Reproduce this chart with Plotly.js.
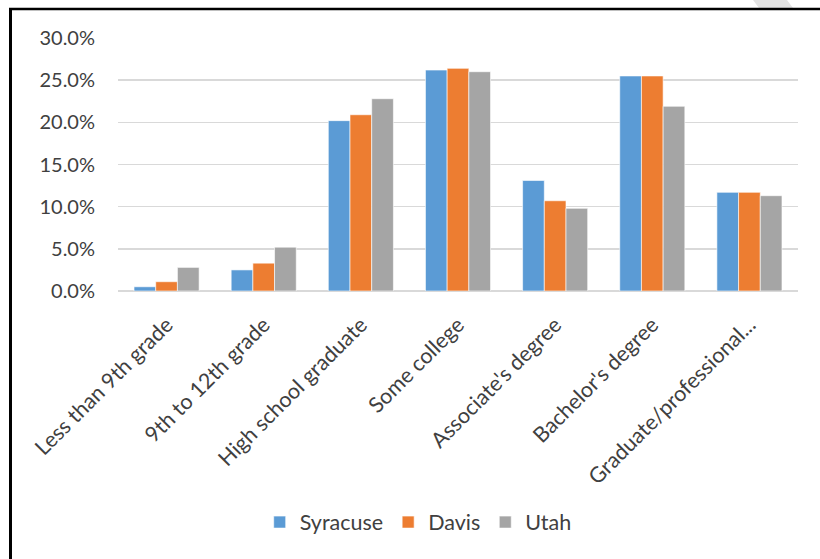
<!DOCTYPE html>
<html>
<head>
<meta charset="utf-8">
<script src="https://cdn.plot.ly/plotly-3.0.1.min.js"></script>
<style>
  html, body { margin: 0; padding: 0; background: #ffffff; }
  #chart { width: 820px; height: 559px; }
</style>
</head>
<body>
<div id="chart"></div>
<script>
const categories = [
  "Less than 9th grade",
  "9th to 12th grade",
  "High school graduate",
  "Some college",
  "Associate's degree",
  "Bachelor's degree",
  "Graduate/professional..."
];
const seriesNames = ["Syracuse", "Davis", "Utah"];
const syracuse = [0.005, 0.025, 0.202, 0.262, 0.131, 0.255, 0.117];
const davis    = [0.011, 0.033, 0.209, 0.264, 0.107, 0.255, 0.117];
const utah     = [0.028, 0.052, 0.228, 0.260, 0.098, 0.219, 0.113];
const yTicks = [0, 0.05, 0.10, 0.15, 0.20, 0.25, 0.30];
const yTickLabels = ["0.0%", "5.0%", "10.0%", "15.0%", "20.0%", "25.0%", "30.0%"];

const colors = ["#5b9bd5", "#ed7d31", "#a5a5a5"];
const values = [syracuse, davis, utah];

const FONT = "Lato, 'Open Sans', sans-serif";

// pixel -> paper helpers for decorative frame (plot area: x 118..798, y 38..290.7)
const px = x => (x - 118) / 680;
const py = y => (290.7 - y) / 252.7;

const data = seriesNames.map((name, i) => ({
  type: "bar",
  name: name,
  x: categories,
  y: values[i],
  marker: { color: colors[i], line: { color: "#ffffff", width: 0.6 } },
  hoverinfo: "skip"
}));

const layout = {
  width: 820,
  height: 559,
  margin: { l: 118, r: 22, t: 38, b: 268, pad: 0 },
  paper_bgcolor: "#ffffff",
  plot_bgcolor: "#ffffff",
  font: { family: FONT, color: "#595959", size: 20 },
  barmode: "group",
  bargap: 0.33,
  bargroupgap: 0,
  showlegend: true,
  legend: {
    orientation: "h",
    xref: "container", yref: "container",
    x: 0.51, xanchor: "center",
    y: 0.066, yanchor: "middle",
    font: { family: FONT, size: 21.5, color: "#404040" },
    bgcolor: "rgba(0,0,0,0)"
  },
  xaxis: {
    type: "category",
    tickangle: -45,
    tickfont: { family: FONT, size: 21.5, color: "#404040" },
    showgrid: false,
    showline: false,
    ticks: "",
    zeroline: false,
    ticklabelstandoff: 16,
    automargin: false
  },
  yaxis: {
    range: [0, 0.30],
    tickvals: yTicks,
    ticktext: yTickLabels,
    tickfont: { family: FONT, size: 20, color: "#404040" },
    showgrid: true,
    gridcolor: "#d9d9d9",
    gridwidth: 1.5,
    zeroline: true,
    zerolinecolor: "#d9d9d9",
    zerolinewidth: 1.5,
    showline: false,
    ticks: "",
    ticklabelstandoff: 22,
    automargin: false,
    fixedrange: true
  },
  shapes: [
    { type: "path", xref: "paper", yref: "paper",
      path: "M " + px(753) + " " + py(0) + " L " + px(787) + " " + py(0) +
            " L " + px(793) + " " + py(8) + " L " + px(759) + " " + py(8) + " Z",
      fillcolor: "#e3e3e3", line: { width: 0 }, layer: "above" },
    { type: "line", xref: "paper", yref: "paper",
      x0: px(10.5), x1: px(10.5),
      y0: py(9), y1: py(570),
      line: { color: "#000000", width: 3 } },
    { type: "line", xref: "paper", yref: "paper",
      x0: px(9), x1: px(830),
      y0: py(9), y1: py(9),
      line: { color: "#000000", width: 2.5 } }
  ]
};

Plotly.newPlot("chart", data, layout, { displayModeBar: false, staticPlot: true });
</script>
</body>
</html>
